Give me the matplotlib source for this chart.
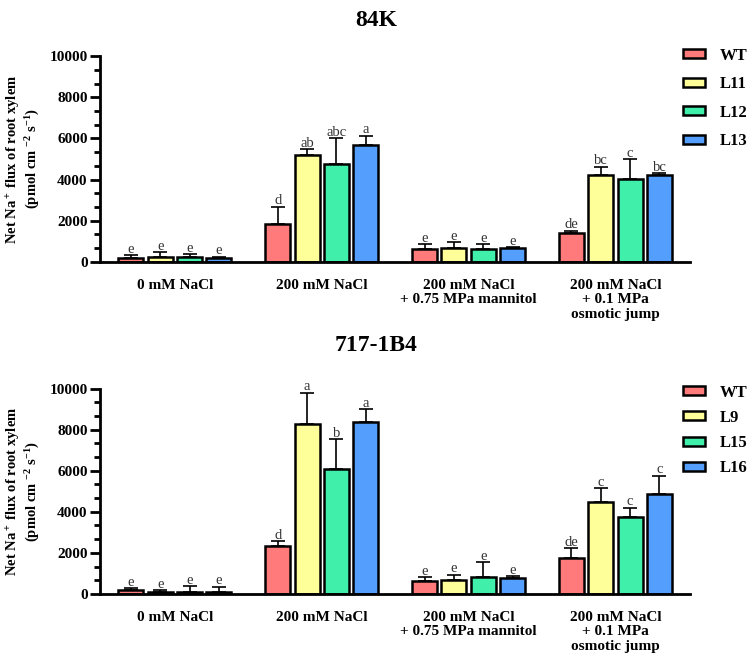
import numpy as np
import matplotlib
matplotlib.use("Agg")
import matplotlib.pyplot as plt
from matplotlib.ticker import MultipleLocator

plt.rcParams['font.family'] = ['Liberation Serif', 'DejaVu Serif']
plt.rcParams['font.weight'] = 'bold'
plt.rcParams['mathtext.fontset'] = 'custom'
plt.rcParams['mathtext.rm'] = 'Liberation Serif:bold'
plt.rcParams['mathtext.it'] = 'Liberation Serif:bold'
plt.rcParams['mathtext.bf'] = 'Liberation Serif:bold'
plt.rcParams['mathtext.default'] = 'bf'

# treatments on the x axis
conditions = ["0 mM NaCl", "200 mM NaCl",
              "200 mM NaCl\n+ 0.75 MPa mannitol",
              "200 mM NaCl\n+ 0.1 MPa\nosmotic jump"]
colors = ["#ff7b7b", "#ffff99", "#40f0aa", "#549ffd"]

# 84K panel
lines_84k = ["WT", "L11", "L12", "L13"]
mean_84k = [[200, 1840, 620, 1390],
            [260, 5200, 660, 4220],
            [260, 4740, 640, 4030],
            [190, 5690, 650, 4230]]
err_84k = [[110, 840, 250, 130],
           [200, 290, 290, 400],
           [100, 1270, 230, 970],
           [70, 440, 70, 80]]
let_84k = [["e", "d", "e", "de"],
           ["e", "ab", "e", "bc"],
           ["e", "abc", "e", "c"],
           ["e", "a", "e", "bc"]]

# 717-1B4 panel
lines_717 = ["WT", "L9", "L15", "L16"]
mean_717 = [[180, 2330, 610, 1770],
            [110, 8300, 660, 4480],
            [110, 6070, 810, 3770],
            [80, 8400, 750, 4890]]
err_717 = [[110, 230, 200, 450],
           [70, 1500, 280, 660],
           [260, 1460, 730, 440],
           [260, 600, 110, 880]]
let_717 = [["e", "d", "e", "de"],
           ["e", "a", "e", "c"],
           ["e", "b", "e", "c"],
           ["e", "a", "e", "c"]]


def panel(ax, names, means, errs, letters, spacing, top):
    x = np.arange(len(conditions))
    w = 0.17
    offs = [-0.3, -0.1, 0.1, 0.3]
    for i in range(len(names)):
        m = np.array(means[i])
        e = np.array(errs[i])
        ax.bar(x + offs[i], m, w, color=colors[i], edgecolor='black',
               linewidth=1.8, label=names[i], zorder=2)
        ax.errorbar(x + offs[i], m, yerr=[np.zeros_like(e), e], fmt='none',
                    ecolor='black', elinewidth=1.2, capsize=5, capthick=1.2,
                    zorder=1)
        for j in range(len(conditions)):
            ax.text(x[j] + offs[i], m[j] + e[j] - 30, letters[i][j],
                    ha='center', va='bottom', fontsize=10.5, fontweight='normal',
                    color='#333333')
    ax.set_xlim(-0.51, 3.51)
    ax.set_ylim(0, 10000)
    ax.yaxis.set_major_locator(MultipleLocator(2000))
    ax.yaxis.set_minor_locator(MultipleLocator(2000 / 3))
    ax.set_xticks(x)
    ax.set_xticklabels(conditions, fontsize=11, fontweight='bold', linespacing=1.15)
    ax.tick_params(axis='x', length=0, pad=12)
    ax.tick_params(axis='y', which='major', length=7, width=2, labelsize=11, pad=2)
    ax.tick_params(axis='y', which='minor', length=4, width=2)
    for s in ['top', 'right']:
        ax.spines[s].set_visible(False)
    for s in ['left', 'bottom']:
        ax.spines[s].set_linewidth(2)
    ax.set_ylabel("Net Na$^+$ flux of root xylem\n(pmol cm $^{-2}$ s$^{-1}$)",
                  fontsize=10.5, fontweight='bold', labelpad=5, linespacing=1.1)
    ax.legend(loc='upper left', bbox_to_anchor=(0.988, top), frameon=False,
              fontsize=12, handlelength=1.3, handleheight=0.45,
              labelspacing=spacing, handletextpad=0.9, borderaxespad=0,
              borderpad=0)


fig = plt.figure(figsize=(7.52, 6.68), dpi=100)
ax1 = fig.add_axes([0.133, 0.608, 0.785, 0.308])
ax2 = fig.add_axes([0.133, 0.111, 0.785, 0.307])
panel(ax1, lines_84k, mean_84k, err_84k, let_84k, 0.75, 1.04)
panel(ax2, lines_717, mean_717, err_717, let_717, 0.55, 1.02)
fig.text(0.5, 1 - 20 / 668, "84K", ha='center', va='center',
         fontsize=17, fontweight='bold')
fig.text(0.5, 1 - 345 / 668, "717-1B4", ha='center', va='center',
         fontsize=17, fontweight='bold')

fig.savefig("out.png", dpi=100)
